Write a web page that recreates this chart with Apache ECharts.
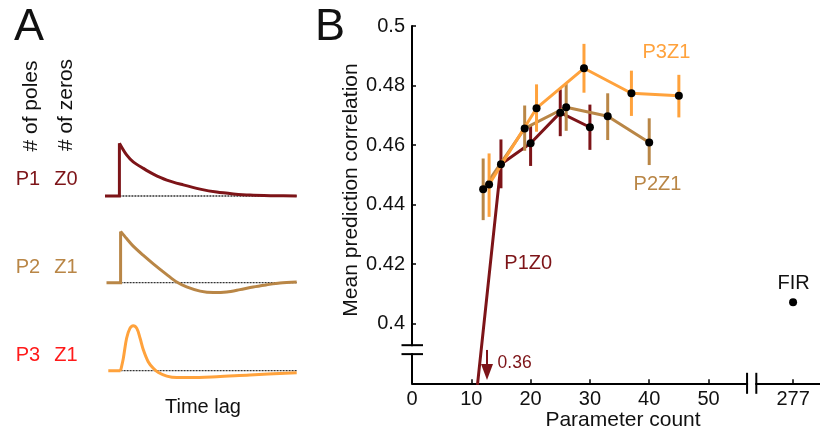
<!DOCTYPE html>
<html>
<head>
<meta charset="utf-8">
<script src="https://cdn.jsdelivr.net/npm/echarts@6/dist/echarts.min.js"></script>
<style>
html,body{margin:0;padding:0;background:#fff;}
#chart{width:820px;height:432px;}
</style>
</head>
<body>
<div id="chart"></div>
<script>
// ---------- Panel A: example impulse responses (time lag units, amplitude units) ----------
const timeP1 = [0, 4.8, 4.8, 7.2, 9.4, 12.8, 16.1, 20.6, 26.1, 31.7, 37.2, 42.8, 48.3, 56.1, 63.9];
const ampP1  = [0, 0, 17.6, 13.7, 11.4, 9.2, 7.3, 5.3, 3.7, 2.3, 1.3, 0.7, 0.3, 0.1, 0];
const timeP2 = [0.5, 5.2, 5.2, 7.2, 9.4, 12.8, 16.1, 20.6, 23.9, 27.2, 31.7, 36.1, 40.6, 45, 49.4, 53.9, 58.3, 63.9];
const ampP2  = [0, 0, 17.1, 14.7, 12.2, 9.1, 6.3, 2.7, 0.2, -1.4, -2.8, -3.3, -3.1, -2.3, -1.4, -0.7, -0.1, 0.2];
const timeP3 = [1.1, 5.2, 6.1, 7.2, 8.3, 9.4, 10.6, 11.7, 12.8, 14.4, 16.1, 17.8, 20.6, 23.9, 28.3, 37.2, 48.3, 63.9];
const ampP3  = [0, 0, 4.1, 10.8, 14.1, 15, 14.1, 10.8, 6.9, 3, 0.8, -0.6, -1.8, -2.3, -2.3, -2, -1.4, -0.7];
const baselineStart = [4.8, 5.2, 5.2];
const baselineEnd = 64;
const modelNamesPoles = ['P1', 'P2', 'P3'];
const modelNamesZeros = ['Z0', 'Z1', 'Z1'];

// ---------- Panel B: mean prediction correlation vs parameter count ----------
const p1z0Count = [10, 15, 20, 25, 30];
const p1z0Mean  = [0.36, 0.4536, 0.4606, 0.4709, 0.4660];
const p1z0Low   = [null, 0.4455, 0.4530, 0.4630, 0.4584];
const p1z0High  = [null, 0.4619, 0.4664, 0.4787, 0.4736];

const p2z1Count = [12, 19, 26, 33, 40];
const p2z1Mean  = [0.4452, 0.4656, 0.4727, 0.4697, 0.4609];
const p2z1Low   = [0.4348, 0.4581, 0.4648, 0.4617, 0.4533];
const p2z1High  = [0.4555, 0.4733, 0.4805, 0.4774, 0.4690];

const p3z1Count = [13, 21, 29, 37, 45];
const p3z1Mean  = [0.4468, 0.4724, 0.4858, 0.4774, 0.4766];
const p3z1Low   = [0.4359, 0.4645, 0.4776, 0.4698, 0.4693];
const p3z1High  = [0.4572, 0.4804, 0.4940, 0.4850, 0.4836];

const firCount = [277];
const firMean  = [0.4072];

const xTickValues = [0, 10, 20, 30, 40, 50, 277];
const yTickValues = [0.4, 0.42, 0.44, 0.46, 0.48, 0.5];
const p1z0OffscaleLabel = '0.36';

// broken x axis: real values between breakFrom and breakTo are collapsed into a small gap
const X_BREAK = {from: 56.5, to: 270.8, gap: 1.56};
function toDisp(v){ return v <= X_BREAK.from ? v : X_BREAK.from + X_BREAK.gap + (v - X_BREAK.to); }
function fromDisp(d){ return d <= X_BREAK.from ? d : Math.round(X_BREAK.to + d - X_BREAK.from - X_BREAK.gap); }
const Y_BREAK = {low: 0.3898, high: 0.3928};

const C_P1 = '#7d1418', C_P2 = '#b98646', C_P3 = '#ffa23c', C_P3TXT = '#ff1a1a';
const FONT = 'Liberation Sans, Arial, sans-serif';

const chart = echarts.init(document.getElementById('chart'), null, {renderer: 'canvas'});

function zip(a, b){ return a.map((v, i) => [v, b[i]]); }
function errData(xs, lo, hi){ return xs.map((x, i) => [toDisp(x), lo[i], hi[i]]).filter(d => d[1] != null); }

// Panel A grids
const aGrids = [
  {left: 105, width: 192, top: 142, height: 57, yMin: -1, yMax: 18},
  {left: 105, width: 192, top: 228.7, height: 66, yMin: -4, yMax: 18},
  {left: 105, width: 192, top: 322.7, height: 57, yMin: -3, yMax: 16}
];
const grids = aGrids.map(g => ({left: g.left, width: g.width, top: g.top, height: g.height, outerBoundsMode: 'none'}));
grids.push({left: 412, top: 26, width: 408, height: 357.3, outerBoundsMode: 'none'});

const xAxes = aGrids.map((g, i) => ({type: 'value', gridIndex: i, min: 0, max: 64, show: false}));
const yAxes = aGrids.map((g, i) => ({type: 'value', gridIndex: i, min: g.yMin, max: g.yMax, show: false}));

xAxes.push({
  type: 'value', gridIndex: 3, min: 0, max: 68.8,
  axisLine: {show: true, lineStyle: {color: '#000', width: 2}},
  axisTick: {show: true, inside: true, length: 4, lineStyle: {color: '#000', width: 1.5}, customValues: xTickValues.map(toDisp)},
  axisLabel: {show: true, customValues: xTickValues.map(toDisp), formatter: v => String(fromDisp(v)),
              color: '#111', fontSize: 20, fontFamily: FONT, margin: 6},
  splitLine: {show: false}
});
yAxes.push({
  type: 'value', gridIndex: 3, min: 0.38, max: 0.5,
  axisLine: {show: true, lineStyle: {color: '#000', width: 2}},
  axisTick: {show: true, inside: true, length: 4, lineStyle: {color: '#000', width: 1.5}, customValues: yTickValues},
  axisLabel: {show: true, customValues: yTickValues, formatter: v => String(+v.toFixed(2)),
              color: '#111', fontSize: 20, fontFamily: FONT, margin: 7},
  splitLine: {show: false}
});

const series = [];
// Panel A curves
const aCurves = [[timeP1, ampP1, C_P1, true], [timeP2, ampP2, C_P2, true], [timeP3, ampP3, C_P3, false]];
aCurves.forEach(([t, a, c, hasStep], i) => {
  const pts = zip(t, a);
  // dotted zero line
  series.push({type: 'line', xAxisIndex: i, yAxisIndex: i, data: [[baselineStart[i], 0], [baselineEnd, 0]],
    symbol: 'none', silent: true, z: 1, lineStyle: {color: '#333', width: 1.3, type: [2, 1]}});
  if (hasStep) {
    series.push({type: 'line', xAxisIndex: i, yAxisIndex: i, data: pts.slice(0, 3), symbol: 'none', z: 2,
      lineStyle: {color: c, width: 3, join: 'miter'}});
    series.push({type: 'line', xAxisIndex: i, yAxisIndex: i, data: pts.slice(2), symbol: 'none', smooth: 0.3, z: 2,
      lineStyle: {color: c, width: 3}});
  } else {
    series.push({type: 'line', xAxisIndex: i, yAxisIndex: i, data: pts.slice(0, 2), symbol: 'none', z: 2,
      lineStyle: {color: c, width: 3}});
    series.push({type: 'line', xAxisIndex: i, yAxisIndex: i, data: pts.slice(1), symbol: 'none', smooth: 0.35, z: 2,
      lineStyle: {color: c, width: 3}});
  }
});

// Panel B
function errSeries(data, color, z){
  return {type: 'custom', xAxisIndex: 3, yAxisIndex: 3, data: data, z: z, silent: true,
    encode: {x: 0, y: [1, 2]},
    renderItem: (params, api) => {
      const p1 = api.coord([api.value(0), api.value(1)]);
      const p2 = api.coord([api.value(0), api.value(2)]);
      return {type: 'line', shape: {x1: p1[0], y1: p1[1], x2: p2[0], y2: p2[1]},
              style: {stroke: color, lineWidth: 3}};
    }};
}
const bModels = [
  [p1z0Count, p1z0Mean, p1z0Low, p1z0High, C_P1],
  [p2z1Count, p2z1Mean, p2z1Low, p2z1High, C_P2],
  [p3z1Count, p3z1Mean, p3z1Low, p3z1High, C_P3]
];
bModels.forEach(([xs, m, lo, hi, c], k) => {
  const z = 3 + k * 2;
  series.push(errSeries(errData(xs, lo, hi), c, z));
  series.push({type: 'line', xAxisIndex: 3, yAxisIndex: 3, data: xs.map((x, i) => [toDisp(x), m[i]]),
    symbol: 'none', clip: true, z: z + 1, lineStyle: {color: c, width: 3}});
});
bModels.forEach(([xs, m]) => {
  series.push({type: 'scatter', xAxisIndex: 3, yAxisIndex: 3, clip: true, z: 20,
    data: xs.map((x, i) => [toDisp(x), m[i]]).filter(d => d[1] >= 0.38),
    symbol: 'circle', symbolSize: 8, itemStyle: {color: '#000', opacity: 1}});
});
series.push({type: 'scatter', xAxisIndex: 3, yAxisIndex: 3, z: 20,
  data: firCount.map((x, i) => [toDisp(x), firMean[i]]),
  symbol: 'circle', symbolSize: 8, itemStyle: {color: '#000', opacity: 1}});

chart.setOption({
  animation: false,
  backgroundColor: '#fff',
  grid: grids, xAxis: xAxes, yAxis: yAxes, series: series
});

// ---------- annotations ----------
const P = (x, y) => chart.convertToPixel({gridIndex: 3}, [x, y]);
function txt(x, y, s, opts){
  return Object.assign({type: 'text', x: x, y: y, z: 50,
    style: Object.assign({text: s, fontFamily: FONT, fontSize: 20, fill: '#111', align: 'center', verticalAlign: 'middle'}, opts || {})});
}
const g = [];
g.push(txt(29, 28, 'A', {fontSize: 45}));
g.push(txt(330, 28, 'B', {fontSize: 45}));
g.push(Object.assign(txt(31, 106, '# of poles', {fontSize: 21}), {rotation: Math.PI / 2}));
g.push(Object.assign(txt(66, 105, '# of zeros', {fontSize: 21}), {rotation: Math.PI / 2}));
const labelY = [179, 267, 355.5];
const labelC = [C_P1, C_P2, C_P3TXT];
modelNamesPoles.forEach((n, i) => {
  g.push(txt(28, labelY[i], n, {fill: labelC[i], fontSize: 20}));
  g.push(txt(66, labelY[i], modelNamesZeros[i], {fill: labelC[i], fontSize: 20}));
});
g.push(txt(203, 407, 'Time lag', {fontSize: 20}));
g.push(txt(623, 420, 'Parameter count', {fontSize: 21}));
g.push(Object.assign(txt(351, 190, 'Mean prediction correlation', {fontSize: 21}), {rotation: Math.PI / 2}));

// series labels (anchored in data space)
let q = P(42.9, 0.4910); g.push(txt(q[0], q[1], 'P3Z1', {fill: C_P3}));
q = P(41.4, 0.4469); g.push(txt(q[0], q[1], 'P2Z1', {fill: C_P2}));
q = P(19.6, 0.4202); g.push(txt(q[0], q[1], 'P1Z0', {fill: C_P1}));
q = P(toDisp(firCount[0]), 0.4135); g.push(txt(q[0] + 0.5, q[1], 'FIR'));

// off-scale arrow for P1Z0 first point
const aTop = P(12.65, 0.3912), aBot = P(12.65, 0.3811);
g.push({type: 'line', z: 30, shape: {x1: aTop[0], y1: aTop[1], x2: aTop[0], y2: aBot[1] - 10}, style: {stroke: C_P1, lineWidth: 2}});
g.push({type: 'polygon', z: 30, shape: {points: [[aTop[0] - 6, aBot[1] - 16], [aTop[0] + 6, aBot[1] - 16], [aTop[0], aBot[1]]]}, style: {fill: C_P1}});
q = P(17.3, 0.3866); g.push(txt(q[0], q[1], p1z0OffscaleLabel, {fill: C_P1, fontSize: 17.5}));

// y-axis break
const yb1 = P(0, Y_BREAK.high), yb2 = P(0, Y_BREAK.low);
g.push({type: 'rect', z: 40, shape: {x: yb1[0] - 3, y: yb1[1] + 1, width: 6, height: yb2[1] - yb1[1] - 2}, style: {fill: '#fff'}});
[yb1, yb2].forEach(p => g.push({type: 'line', z: 41, shape: {x1: p[0] - 10.5, y1: p[1], x2: p[0] + 11, y2: p[1]}, style: {stroke: '#000', lineWidth: 2}}));
// x-axis break
const xb1 = P(X_BREAK.from, 0.38), xb2 = P(X_BREAK.from + X_BREAK.gap, 0.38);
g.push({type: 'rect', z: 40, shape: {x: xb1[0] + 1, y: xb1[1] - 3, width: xb2[0] - xb1[0] - 2, height: 6}, style: {fill: '#fff'}});
[xb1, xb2].forEach(p => g.push({type: 'line', z: 41, shape: {x1: p[0], y1: p[1] - 10.5, x2: p[0], y2: p[1] + 10.5}, style: {stroke: '#000', lineWidth: 2}}));

chart.setOption({graphic: g});
</script>
</body>
</html>
